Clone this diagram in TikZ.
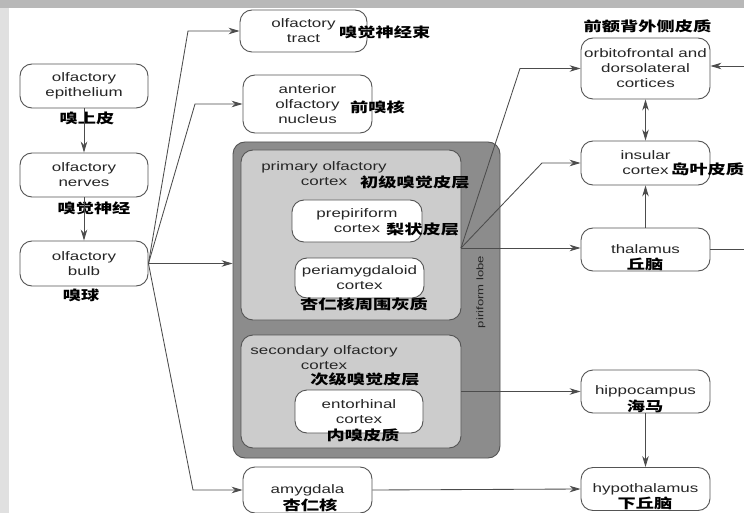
\documentclass[tikz,border=0pt]{standalone}
\usepackage{fontspec}
\setmainfont{Liberation Sans}[FakeStretch=1.38]
\newfontfamily\cjk{Noto Sans CJK SC}[FakeStretch=1.35]
\usetikzlibrary{arrows.meta,positioning}

\tikzset{
  area/.style={draw=black!67, line width=0.9pt, rounded corners=12pt, inner sep=0pt},
  box/.style={area, fill=white, align=center, text=black!85,
    minimum width=129pt, minimum height=44pt},
  txt/.style={align=center, inner sep=0pt, text=black!85},
  cn/.style={inner sep=0pt, font=\cjk\bfseries\fontsize{13.5}{15}\selectfont},
  link/.style={draw=black!70, line width=0.85pt,
    -{Stealth[length=11pt,width=6.5pt,inset=3.5pt]}},
  both/.style={link, {Stealth[length=11pt,width=6.5pt,inset=3.5pt]}-{Stealth[length=11pt,width=6.5pt,inset=3.5pt]}},
}

\begin{document}
\begin{tikzpicture}[x=1pt, y=-1pt, font=\fontsize{12.3}{15}\selectfont]
  \useasboundingbox (0,0) rectangle (744,513);
  \fill[black!28] (0,0) rectangle (744,513);
  \fill[black!12] (0,8) rectangle (9,513);
  \fill[white] (9,8) rectangle (744,513);

  % receptor side
  \node[box, minimum width=128pt] (epi) at (84,86) {olfactory\\epithelium};
  \node[box, minimum width=128pt] (nerves) at (84,175) {olfactory\\nerves};
  \node[box, minimum width=128pt, minimum height=45pt] (bulb) at (84,263.5) {olfactory\\bulb};
  \node[cn, below=3pt of epi, xshift=3pt] (epi-cn) {嗅上皮};
  \node[cn, below=4.5pt of nerves, xshift=10pt] (nerves-cn) {嗅觉神经};
  \node[cn, below=2.5pt of bulb, xshift=-3pt] (bulb-cn) {嗅球};

  % first targets of the bulb
  \node[box, minimum width=127pt, minimum height=42pt] (tract) at (303.5,31) {olfactory\\tract};
  \node[cn, anchor=west] (tract-cn) at (339,32) {嗅觉神经束};
  \node[box, minimum height=58pt] (aon) at (307.5,104) {anterior\\olfactory\\nucleus};
  \node[cn, anchor=west] (aon-cn) at (350,107) {前嗅核};

  % piriform lobe with its cortices
  \node[area, fill=black!45, minimum width=267pt, minimum height=316pt] (lobe) at (366.5,300) {};
  \node[txt, rotate=90, font=\fontsize{9.5}{11}\selectfont] (lobe-t) at (481,292) {piriform lobe};
  \node[area, fill=black!20, minimum width=220pt, minimum height=170pt] (primary) at (351,235) {};
  \node[txt] (primary-t) at (324,174) {primary olfactory\\cortex};
  \node[cn, anchor=west] (primary-cn) at (360,182) {初级嗅觉皮层};
  \node[box, minimum width=130pt, minimum height=42pt] (prepiri) at (357,221) {prepiriform\\cortex};
  \node[cn, anchor=west] (prepiri-cn) at (386,229) {梨状皮层};
  \node[box, minimum height=40pt] (periamyg) at (359.5,278) {periamygdaloid\\cortex};
  \node[cn] (periamyg-cn) at (364,304) {杏仁核周围灰质};

  \node[area, fill=black!20, minimum width=220pt, minimum height=113pt] (secondary) at (351,391.5) {};
  \node[txt] (secondary-t) at (324,358) {secondary olfactory\\cortex};
  \node[cn] (secondary-cn) at (365,379) {次级嗅觉皮层};
  \node[box, minimum width=128pt, minimum height=43pt] (entor) at (359,411.5) {entorhinal\\cortex};
  \node[cn] (entor-cn) at (363,435) {内嗅皮质};

  \node[box, minimum height=46pt] (amyg) at (307.5,490) {amygdala};
  \node[cn] (amyg-cn) at (310,505) {杏仁核};

  % higher centres
  \node[box, minimum height=61pt] (orbito) at (645.5,68.5) {orbitofrontal and\\dorsolateral\\cortices};
  \node[cn, above=4pt of orbito, xshift=2pt] (orbito-cn) {前额背外侧皮质};
  \node[box] (insula) at (645.5,163) {insular\\cortex};
  \node[cn, anchor=west] (insula-cn) at (671,169) {岛叶皮质};
  \node[box, minimum height=43pt] (thal) at (645.5,249.5) {thalamus};
  \node[cn] (thal-cn) at (645,264) {丘脑};
  \node[box, minimum height=43pt] (hippo) at (645.5,391.5) {hippocampus};
  \node[cn] (hippo-cn) at (645,406) {海马};
  \node[box, minimum height=43pt] (hypo) at (645.5,489) {hypothalamus};
  \node[cn] (hypo-cn) at (645,503) {下丘脑};

  % bends of the connectors
  \coordinate (tract-bend) at (188,31);
  \coordinate (aon-bend) at (195,104);
  \coordinate (amyg-bend) at (193,490);
  \coordinate (pc-out) at (461,248);
  \coordinate (orbito-bend) at (520,68.5);
  \coordinate (insula-bend) at (542,163);

  \draw[link] (epi) -- (nerves);
  \draw[link] (nerves) -- (bulb);
  \draw[link] (bulb.east) -- (tract-bend) -- (tract.west);
  \draw[link] (bulb.east) -- (aon-bend) -- (aon.west);
  \draw[link] (bulb.east) -- (bulb.east -| lobe.west);
  \draw[link] (bulb.east) -- (amyg-bend) -- (amyg.west);
  \draw[link] (pc-out) -- (orbito-bend) -- (orbito.west);
  \draw[link] (pc-out) -- (insula-bend) -- (insula.west);
  \draw[link] (pc-out) -- (pc-out -| thal.west);
  \draw[link] (secondary.east) -- (hippo.west);
  \draw[link] (amyg.east) -- (hypo.west);
  \draw[both] (orbito) -- (insula);
  \draw[link] (thal) -- (insula);
  \draw[link] (hippo) -- (hypo);
  \draw[link] (thal.east) -- ++(50,0) |- ([yshift=2.5pt]orbito.east);
\end{tikzpicture}
\end{document}
